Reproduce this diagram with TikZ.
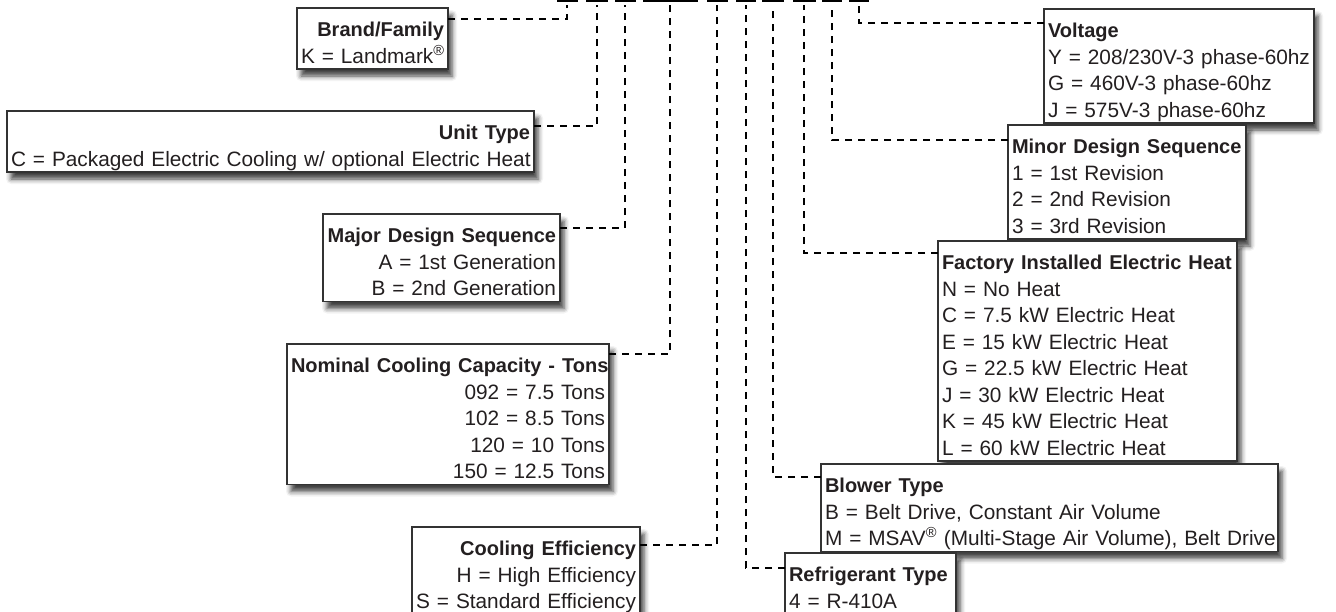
\documentclass[tikz,border=0pt]{standalone}
\usepackage{fontspec}
\setmainfont{Liberation Sans}
\usetikzlibrary{shadows.blur}
\definecolor{txt}{HTML}{231F20}
\definecolor{edge}{HTML}{333333}
\newcommand\boxtitle[1]{{\fontsize{20}{26.5}\selectfont\bfseries\mbox{#1}}}
\newcommand\boxline[1]{\mbox{#1}}
\newcommand\firstgap{\rule{0pt}{28.5pt}}
\newcommand\lastgap{\rule[-6pt]{0pt}{6pt}}
\begin{document}
\begin{tikzpicture}[x=1pt,y=-1pt,
  box/.style={draw=edge, line width=1.4pt, fill=white, text=txt, inner xsep=4pt, inner ysep=0pt, outer sep=0pt,
     font=\fontsize{20.8}{26.5}\selectfont,
     blur shadow={shadow xshift=4pt, shadow yshift=-7pt, shadow opacity=75, shadow blur radius=5pt}},
  lbox/.style={box, align=right, anchor=north east},
  rbox/.style={box, align=left, anchor=north west},
  conn/.style={line width=2.4pt, dash pattern=on 7pt off 6pt, shorten >=3pt},
  bar/.style={fill=black, inner sep=0pt, minimum height=6pt, anchor=south}]
\useasboundingbox (0,0) rectangle (1336,611);
\clip (0,0) rectangle (1336,611);

% model-number underscores (cut at top)
\node[bar, minimum width=21pt] (s1) at (567,2) {};
\node[bar, minimum width=22pt] (s2) at (597,2) {};
\node[bar, minimum width=21pt] (s3) at (625,2) {};
\node[bar, minimum width=55pt] (s4) at (670,2) {};
\node[bar, minimum width=21pt] (s5) at (717,2) {};
\node[bar, minimum width=20pt] (s6) at (746,2) {};
\node[bar, minimum width=22pt] (s7) at (773,2) {};
\node[bar, minimum width=23pt] (s8) at (804,2) {};
\node[bar, minimum width=20pt] (s9) at (832,2) {};
\node[bar, minimum width=20pt] (s10) at (859,2) {};

% left column
\node[lbox, text width=143pt] (brand) at (448,8)
  {\firstgap\boxtitle{Brand/Family}\\\boxline{K = Landmark\textsuperscript{®}}\lastgap};
\node[lbox, text width=519pt] (unit) at (534,111)
  {\firstgap\boxtitle{Unit Type}\\\boxline{C = Packaged Electric Cooling w/ optional Electric Heat}\lastgap};
\node[lbox, text width=229pt] (major) at (560,214)
  {\firstgap\boxtitle{Major Design Sequence}\\\boxline{A = 1st Generation}\\\boxline{B = 2nd Generation}\lastgap};
\node[lbox, text width=314pt] (nominal) at (609,344)
  {\firstgap\boxtitle{Nominal Cooling Capacity - Tons}\\\boxline{092 = 7.5 Tons}\\\boxline{102 = 8.5 Tons}\\\boxline{120 = 10 Tons}\\\boxline{150 = 12.5 Tons}\lastgap};
\node[lbox, text width=220pt] (cool) at (640,527)
  {\firstgap\boxtitle{Cooling Efficiency}\\\boxline{H = High Efficiency}\\\boxline{S = Standard Efficiency}\lastgap};

% right column
\node[rbox, text width=262pt] (volt) at (1044,9)
  {\firstgap\boxtitle{Voltage}\\\boxline{Y = 208/230V-3 phase-60hz}\\\boxline{G = 460V-3 phase-60hz}\\\boxline{J = 575V-3 phase-60hz}\lastgap};
\node[rbox, text width=230pt] (minor) at (1008,125)
  {\firstgap\boxtitle{Minor Design Sequence}\\\boxline{1 = 1st Revision}\\\boxline{2 = 2nd Revision}\\\boxline{3 = 3rd Revision}\lastgap};
\node[rbox, text width=291pt] (heat) at (938,241)
  {\firstgap\boxtitle{Factory Installed Electric Heat}\\\boxline{N = No Heat}\\\boxline{C = 7.5 kW Electric Heat}\\\boxline{E = 15 kW Electric Heat}\\\boxline{G = 22.5 kW Electric Heat}\\\boxline{J = 30 kW Electric Heat}\\\boxline{K = 45 kW Electric Heat}\\\boxline{L = 60 kW Electric Heat}\lastgap};
\node[rbox, text width=449pt] (blower) at (821,464)
  {\firstgap\boxtitle{Blower Type}\\\boxline{B = Belt Drive, Constant Air Volume}\\\boxline{M = MSAV\textsuperscript{®} (Multi-Stage Air Volume), Belt Drive}\lastgap};
\node[rbox, text width=163pt] (refr) at (785,553)
  {\firstgap\boxtitle{Refrigerant Type}\\\boxline{4 = R-410A}\lastgap};

% connectors
\draw[conn] ([yshift=-11pt]brand.north east) -| (s1.south);
\draw[conn] ([yshift=-15pt]unit.north east) -| (s2.south);
\draw[conn] ([yshift=-14pt]major.north east) -| (s3.south);
\draw[conn] ([yshift=-10pt]nominal.north east) -| (s4.south);
\draw[conn] ([yshift=-18pt]cool.north east) -| (s5.south);
\draw[conn] ([yshift=-15pt]refr.north west) -| (s6.south);
\draw[conn] ([yshift=-13pt]blower.north west) -| (s7.south);
\draw[conn] ([yshift=-12pt]heat.north west) -| (s8.south);
\draw[conn] ([yshift=-15pt]minor.north west) -| (s9.south);
\draw[conn] ([yshift=-14pt]volt.north west) -| (s10.south);
\end{tikzpicture}
\end{document}
